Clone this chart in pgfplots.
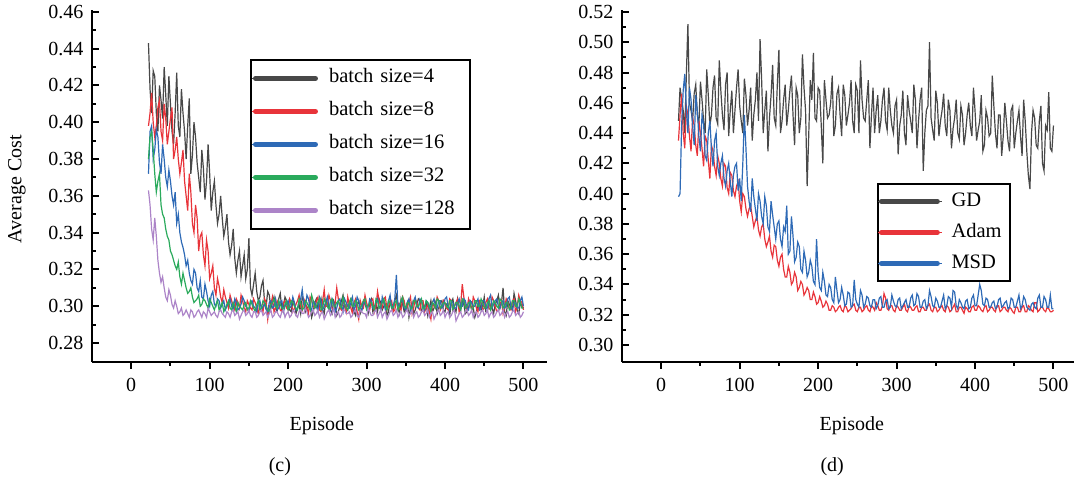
\documentclass[border=0pt]{standalone}
\usepackage{fontspec}
\setmainfont{Liberation Serif}
\usepackage{pgfplots}
\usepackage{pgfplotstable}
\pgfplotsset{compat=1.18}
\definecolor{cgray}{RGB}{72,72,72}
\definecolor{cred}{RGB}{232,52,58}
\definecolor{cblue}{RGB}{46,106,182}
\definecolor{cgreen}{RGB}{42,170,92}
\definecolor{cpurple}{RGB}{172,132,200}

\pgfplotstableread{
x bsa bsb bsc bsd bse
22 0.443 0.398 0.372 0.380 0.363
24 0.418 0.405 0.395 0.392 0.355
26 0.405 0.416 0.398 0.395 0.342
28 0.428 0.400 0.380 0.385 0.336
30 0.425 0.392 0.385 0.372 0.348
32 0.405 0.398 0.396 0.362 0.338
34 0.395 0.408 0.392 0.368 0.325
36 0.420 0.412 0.378 0.372 0.318
38 0.412 0.395 0.372 0.355 0.313
40 0.402 0.390 0.388 0.350 0.316
42 0.430 0.410 0.380 0.348 0.310
44 0.415 0.402 0.370 0.342 0.305
46 0.398 0.388 0.365 0.338 0.303
48 0.425 0.395 0.374 0.336 0.309
50 0.410 0.402 0.368 0.330 0.306
52 0.395 0.408 0.360 0.328 0.301
54 0.388 0.380 0.355 0.325 0.299
56 0.405 0.385 0.362 0.322 0.303
58 0.427 0.392 0.345 0.320 0.300
60 0.398 0.380 0.350 0.324 0.296
62 0.392 0.372 0.340 0.316 0.297
64 0.418 0.378 0.335 0.312 0.299
66 0.405 0.385 0.332 0.318 0.295
68 0.395 0.368 0.328 0.314 0.296
70 0.380 0.360 0.322 0.310 0.298
72 0.398 0.352 0.325 0.307 0.296
74 0.413 0.372 0.318 0.308 0.294
76 0.372 0.362 0.314 0.310 0.298
78 0.382 0.345 0.312 0.305 0.297
80 0.400 0.340 0.320 0.302 0.294
82 0.392 0.355 0.318 0.303 0.295
84 0.378 0.348 0.310 0.304 0.297
86 0.370 0.330 0.308 0.306 0.298
88 0.362 0.338 0.314 0.300 0.296
90 0.385 0.340 0.305 0.301 0.294
92 0.375 0.328 0.304 0.304 0.297
94 0.358 0.322 0.312 0.303 0.296
96 0.368 0.336 0.308 0.301 0.294
98 0.388 0.330 0.303 0.299 0.299
100 0.372 0.315 0.300 0.304 0.297
102 0.352 0.318 0.306 0.302 0.295
104 0.362 0.322 0.308 0.300 0.296
106 0.368 0.310 0.301 0.298 0.297
108 0.355 0.306 0.300 0.301 0.295
110 0.345 0.315 0.304 0.303 0.294
112 0.350 0.311 0.303 0.298 0.297
114 0.360 0.305 0.299 0.300 0.298
116 0.348 0.302 0.301 0.302 0.296
118 0.338 0.309 0.303 0.297 0.295
120 0.343 0.305 0.298 0.299 0.294
122 0.350 0.302 0.300 0.301 0.297
124 0.335 0.299 0.302 0.303 0.296
126 0.328 0.306 0.304 0.299 0.294
128 0.333 0.303 0.300 0.298 0.297
130 0.342 0.300 0.298 0.302 0.298
132 0.326 0.298 0.304 0.300 0.295
134 0.318 0.304 0.302 0.297 0.296
136 0.325 0.302 0.298 0.302 0.297
138 0.330 0.299 0.299 0.300 0.293
140 0.316 0.306 0.301 0.299 0.295
142 0.322 0.303 0.305 0.298 0.297
144 0.328 0.299 0.303 0.301 0.298
146 0.315 0.297 0.300 0.302 0.295
148 0.320 0.303 0.299 0.298 0.296
150 0.337 0.301 0.297 0.299 0.298
152 0.310 0.299 0.302 0.303 0.295
154 0.306 0.298 0.303 0.301 0.294
156 0.312 0.304 0.300 0.299 0.297
158 0.318 0.302 0.299 0.297 0.297
160 0.308 0.299 0.297 0.301 0.294
162 0.303 0.296 0.302 0.303 0.295
164 0.305 0.302 0.303 0.298 0.297
166 0.311 0.300 0.298 0.299 0.298
168 0.314 0.297 0.300 0.303 0.295
170 0.302 0.304 0.301 0.302 0.296
172 0.300 0.302 0.298 0.300 0.297
174 0.308 0.293 0.297 0.298 0.294
176 0.306 0.300 0.302 0.297 0.296
178 0.299 0.301 0.303 0.301 0.298
180 0.302 0.305 0.299 0.302 0.294
182 0.305 0.297 0.300 0.304 0.295
184 0.299 0.299 0.304 0.300 0.297
186 0.297 0.303 0.298 0.299 0.297
188 0.304 0.301 0.299 0.303 0.295
190 0.307 0.298 0.302 0.301 0.294
192 0.298 0.297 0.303 0.299 0.297
194 0.300 0.302 0.297 0.298 0.298
196 0.305 0.303 0.300 0.301 0.294
198 0.303 0.299 0.301 0.303 0.296
200 0.301 0.298 0.303 0.298 0.297
202 0.298 0.304 0.299 0.300 0.294
204 0.297 0.302 0.300 0.303 0.295
206 0.303 0.297 0.305 0.302 0.298
208 0.302 0.299 0.302 0.300 0.297
210 0.296 0.301 0.298 0.299 0.295
212 0.299 0.303 0.299 0.298 0.294
214 0.301 0.306 0.302 0.304 0.297
216 0.296 0.300 0.304 0.302 0.298
218 0.305 0.298 0.309 0.298 0.296
220 0.303 0.304 0.301 0.299 0.296
222 0.297 0.302 0.300 0.303 0.299
224 0.299 0.299 0.306 0.302 0.297
226 0.300 0.296 0.304 0.300 0.294
228 0.302 0.305 0.299 0.298 0.295
230 0.294 0.303 0.298 0.306 0.297
232 0.297 0.300 0.303 0.303 0.298
234 0.302 0.299 0.302 0.299 0.295
236 0.304 0.303 0.300 0.300 0.296
238 0.299 0.305 0.297 0.302 0.298
240 0.300 0.298 0.305 0.304 0.294
242 0.304 0.297 0.303 0.298 0.296
244 0.298 0.303 0.298 0.299 0.297
246 0.296 0.309 0.300 0.304 0.293
248 0.303 0.300 0.302 0.302 0.295
250 0.301 0.300 0.305 0.300 0.297
252 0.299 0.306 0.300 0.298 0.298
254 0.298 0.303 0.298 0.303 0.295
256 0.296 0.299 0.304 0.304 0.296
258 0.303 0.298 0.302 0.299 0.299
260 0.301 0.302 0.297 0.300 0.294
262 0.295 0.310 0.299 0.302 0.296
264 0.297 0.304 0.303 0.303 0.297
266 0.300 0.299 0.304 0.300 0.294
268 0.303 0.298 0.300 0.299 0.295
270 0.306 0.303 0.297 0.305 0.298
272 0.300 0.301 0.304 0.302 0.298
274 0.297 0.297 0.302 0.299 0.296
276 0.298 0.305 0.300 0.298 0.296
278 0.302 0.301 0.299 0.302 0.297
280 0.304 0.299 0.302 0.304 0.294
282 0.299 0.296 0.305 0.300 0.295
284 0.297 0.302 0.298 0.300 0.297
286 0.295 0.304 0.300 0.303 0.298
288 0.301 0.297 0.305 0.302 0.295
290 0.303 0.293 0.303 0.298 0.294
292 0.296 0.303 0.299 0.299 0.298
294 0.298 0.300 0.298 0.301 0.297
296 0.303 0.299 0.302 0.303 0.296
298 0.301 0.306 0.302 0.304 0.296
300 0.299 0.302 0.300 0.298 0.294
302 0.296 0.299 0.299 0.299 0.299
304 0.302 0.298 0.304 0.302 0.297
306 0.304 0.303 0.303 0.302 0.295
308 0.297 0.304 0.299 0.300 0.295
310 0.299 0.297 0.300 0.298 0.297
312 0.301 0.300 0.302 0.304 0.298
314 0.297 0.308 0.304 0.303 0.294
316 0.304 0.303 0.300 0.299 0.296
318 0.302 0.300 0.298 0.300 0.298
320 0.298 0.299 0.305 0.302 0.294
322 0.300 0.304 0.302 0.304 0.296
324 0.301 0.305 0.298 0.300 0.297
326 0.295 0.298 0.299 0.298 0.293
328 0.297 0.300 0.303 0.303 0.295
330 0.303 0.302 0.306 0.302 0.297
332 0.300 0.303 0.299 0.299 0.298
334 0.298 0.297 0.300 0.299 0.295
336 0.303 0.298 0.304 0.302 0.296
338 0.306 0.303 0.317 0.303 0.298
340 0.299 0.302 0.300 0.298 0.294
342 0.296 0.299 0.301 0.300 0.296
344 0.304 0.298 0.303 0.303 0.297
346 0.301 0.305 0.303 0.305 0.294
348 0.297 0.303 0.299 0.300 0.295
350 0.299 0.298 0.298 0.299 0.297
352 0.302 0.300 0.302 0.302 0.298
354 0.294 0.302 0.304 0.302 0.295
356 0.299 0.305 0.298 0.299 0.296
358 0.302 0.296 0.300 0.298 0.298
360 0.296 0.299 0.303 0.303 0.294
362 0.298 0.304 0.305 0.303 0.296
364 0.301 0.302 0.300 0.300 0.297
366 0.304 0.299 0.299 0.300 0.294
368 0.303 0.298 0.304 0.302 0.295
370 0.297 0.303 0.303 0.304 0.297
372 0.298 0.303 0.300 0.298 0.298
374 0.300 0.297 0.298 0.299 0.295
376 0.302 0.299 0.303 0.303 0.296
378 0.295 0.301 0.302 0.302 0.298
380 0.299 0.297 0.299 0.300 0.294
382 0.303 0.293 0.300 0.297 0.296
384 0.297 0.302 0.302 0.302 0.297
386 0.299 0.300 0.304 0.301 0.293
388 0.302 0.299 0.300 0.299 0.295
390 0.296 0.305 0.299 0.304 0.297
392 0.299 0.303 0.303 0.303 0.298
394 0.302 0.298 0.303 0.299 0.295
396 0.303 0.300 0.299 0.300 0.296
398 0.298 0.303 0.300 0.302 0.298
400 0.297 0.301 0.304 0.302 0.294
402 0.301 0.299 0.305 0.300 0.296
404 0.300 0.298 0.300 0.299 0.297
406 0.295 0.304 0.298 0.303 0.294
408 0.302 0.303 0.303 0.303 0.295
410 0.304 0.298 0.302 0.298 0.297
412 0.299 0.300 0.299 0.300 0.298
414 0.297 0.302 0.299 0.302 0.292
416 0.304 0.304 0.302 0.302 0.294
418 0.300 0.297 0.304 0.300 0.296
420 0.298 0.301 0.300 0.298 0.297
422 0.303 0.312 0.300 0.304 0.294
424 0.301 0.305 0.304 0.303 0.295
426 0.296 0.300 0.303 0.299 0.297
428 0.297 0.298 0.299 0.300 0.298
430 0.299 0.304 0.298 0.302 0.295
432 0.303 0.301 0.303 0.302 0.296
434 0.302 0.298 0.302 0.298 0.298
436 0.299 0.305 0.300 0.299 0.294
438 0.294 0.303 0.300 0.303 0.296
440 0.297 0.299 0.302 0.303 0.297
442 0.301 0.297 0.304 0.300 0.294
444 0.302 0.303 0.298 0.300 0.295
446 0.298 0.302 0.299 0.304 0.297
448 0.300 0.298 0.303 0.302 0.298
450 0.305 0.299 0.303 0.299 0.295
452 0.297 0.302 0.300 0.299 0.296
454 0.297 0.304 0.298 0.302 0.298
456 0.303 0.299 0.304 0.303 0.294
458 0.300 0.298 0.306 0.298 0.296
460 0.299 0.305 0.299 0.300 0.297
462 0.296 0.303 0.301 0.303 0.294
464 0.301 0.300 0.303 0.302 0.295
466 0.303 0.297 0.304 0.300 0.297
468 0.306 0.298 0.300 0.299 0.298
470 0.299 0.301 0.299 0.304 0.295
472 0.302 0.303 0.302 0.303 0.296
474 0.310 0.296 0.303 0.299 0.298
476 0.297 0.299 0.299 0.300 0.294
478 0.295 0.304 0.300 0.302 0.296
480 0.303 0.302 0.304 0.302 0.297
482 0.301 0.299 0.305 0.298 0.294
484 0.299 0.298 0.300 0.299 0.295
486 0.298 0.303 0.298 0.303 0.297
488 0.307 0.304 0.302 0.303 0.298
490 0.303 0.297 0.302 0.300 0.295
492 0.298 0.300 0.299 0.300 0.296
494 0.296 0.306 0.299 0.304 0.297
496 0.302 0.303 0.303 0.302 0.294
498 0.300 0.302 0.305 0.299 0.295
500 0.299 0.298 0.300 0.299 0.297
}\lefttab

\pgfplotstableread{
x gd adam msd
22 0.448 0.435 0.398
24 0.470 0.452 0.400
26 0.462 0.466 0.445
28 0.455 0.440 0.468
30 0.440 0.430 0.479
32 0.478 0.458 0.455
34 0.512 0.452 0.440
36 0.460 0.438 0.470
38 0.455 0.428 0.462
40 0.448 0.450 0.445
42 0.466 0.445 0.432
44 0.472 0.432 0.465
46 0.452 0.425 0.455
48 0.445 0.448 0.438
50 0.474 0.440 0.428
52 0.462 0.430 0.452
54 0.448 0.418 0.446
56 0.440 0.438 0.425
58 0.482 0.435 0.422
60 0.465 0.422 0.440
62 0.445 0.410 0.448
64 0.452 0.432 0.430
66 0.470 0.428 0.418
68 0.478 0.418 0.435
70 0.450 0.412 0.440
72 0.446 0.425 0.418
74 0.488 0.420 0.412
76 0.468 0.410 0.420
78 0.452 0.405 0.425
80 0.442 0.420 0.410
82 0.472 0.418 0.405
84 0.480 0.404 0.415
86 0.438 0.400 0.420
88 0.455 0.414 0.408
90 0.468 0.412 0.398
92 0.440 0.402 0.412
94 0.455 0.398 0.418
96 0.470 0.405 0.420
98 0.482 0.408 0.402
100 0.458 0.395 0.410
102 0.448 0.388 0.395
104 0.440 0.400 0.420
106 0.476 0.398 0.452
108 0.465 0.390 0.430
110 0.445 0.385 0.405
112 0.455 0.390 0.395
114 0.470 0.392 0.388
116 0.435 0.385 0.410
118 0.452 0.378 0.398
120 0.462 0.382 0.390
122 0.480 0.385 0.382
124 0.448 0.376 0.400
126 0.502 0.372 0.395
128 0.475 0.378 0.385
130 0.440 0.380 0.380
132 0.455 0.370 0.398
134 0.468 0.365 0.392
136 0.428 0.368 0.378
138 0.450 0.372 0.375
140 0.465 0.362 0.395
142 0.485 0.358 0.386
144 0.450 0.366 0.378
146 0.445 0.365 0.370
148 0.472 0.356 0.380
150 0.495 0.352 0.382
152 0.440 0.358 0.370
154 0.448 0.360 0.365
156 0.462 0.350 0.378
158 0.472 0.345 0.375
160 0.445 0.345 0.392
162 0.455 0.352 0.360
164 0.468 0.348 0.362
166 0.478 0.340 0.385
168 0.452 0.342 0.372
170 0.432 0.348 0.355
172 0.470 0.345 0.358
174 0.465 0.336 0.368
176 0.440 0.338 0.365
178 0.450 0.342 0.350
180 0.492 0.340 0.348
182 0.470 0.333 0.362
184 0.455 0.335 0.356
186 0.405 0.338 0.345
188 0.438 0.336 0.348
190 0.475 0.330 0.356
192 0.462 0.330 0.352
194 0.493 0.335 0.342
196 0.450 0.332 0.340
198 0.448 0.327 0.370
200 0.470 0.328 0.348
202 0.468 0.332 0.338
204 0.445 0.329 0.336
206 0.420 0.325 0.348
208 0.475 0.326 0.342
210 0.462 0.329 0.333
212 0.450 0.327 0.332
214 0.452 0.323 0.340
216 0.460 0.323 0.338
218 0.478 0.326 0.330
220 0.438 0.325 0.328
222 0.445 0.322 0.345
224 0.466 0.323 0.336
226 0.470 0.325 0.328
228 0.452 0.326 0.330
230 0.438 0.323 0.338
232 0.472 0.322 0.333
234 0.465 0.326 0.326
236 0.445 0.325 0.327
238 0.452 0.322 0.335
240 0.460 0.323 0.334
242 0.475 0.324 0.325
244 0.448 0.326 0.326
246 0.440 0.327 0.343
248 0.472 0.323 0.330
250 0.468 0.322 0.327
252 0.440 0.325 0.325
254 0.488 0.325 0.336
256 0.462 0.322 0.333
258 0.450 0.323 0.325
260 0.448 0.325 0.327
262 0.462 0.326 0.332
264 0.475 0.323 0.331
266 0.430 0.322 0.326
268 0.452 0.326 0.325
270 0.470 0.325 0.330
272 0.440 0.323 0.330
274 0.455 0.328 0.324
276 0.465 0.326 0.326
278 0.440 0.323 0.331
280 0.448 0.323 0.332
282 0.462 0.326 0.325
284 0.470 0.334 0.325
286 0.448 0.331 0.329
288 0.442 0.324 0.330
290 0.470 0.323 0.324
292 0.455 0.326 0.325
294 0.445 0.326 0.333
296 0.440 0.323 0.329
298 0.458 0.322 0.326
300 0.462 0.326 0.325
302 0.426 0.325 0.330
304 0.445 0.323 0.331
306 0.452 0.323 0.324
308 0.468 0.325 0.326
310 0.440 0.327 0.328
312 0.432 0.323 0.330
314 0.465 0.322 0.325
316 0.455 0.326 0.325
318 0.448 0.325 0.331
320 0.440 0.323 0.333
322 0.472 0.323 0.326
324 0.462 0.325 0.327
326 0.430 0.326 0.334
328 0.448 0.322 0.332
330 0.462 0.322 0.325
332 0.470 0.325 0.325
334 0.415 0.325 0.329
336 0.440 0.323 0.330
338 0.455 0.323 0.324
340 0.458 0.326 0.326
342 0.500 0.327 0.336
344 0.450 0.323 0.332
346 0.442 0.322 0.326
348 0.435 0.325 0.325
350 0.468 0.325 0.331
352 0.460 0.322 0.329
354 0.438 0.323 0.325
356 0.448 0.325 0.325
358 0.455 0.326 0.329
360 0.466 0.323 0.333
362 0.445 0.322 0.324
364 0.438 0.326 0.326
366 0.462 0.325 0.332
368 0.455 0.322 0.331
370 0.430 0.323 0.325
372 0.443 0.325 0.336
374 0.450 0.327 0.335
376 0.462 0.322 0.326
378 0.440 0.322 0.324
380 0.436 0.325 0.330
382 0.458 0.325 0.328
384 0.452 0.323 0.325
386 0.432 0.321 0.324
388 0.440 0.325 0.329
390 0.452 0.324 0.330
392 0.460 0.322 0.324
394 0.445 0.322 0.325
396 0.438 0.325 0.331
398 0.470 0.326 0.333
400 0.455 0.323 0.326
402 0.435 0.323 0.326
404 0.442 0.326 0.333
406 0.448 0.325 0.340
408 0.465 0.323 0.336
410 0.428 0.322 0.327
412 0.432 0.325 0.326
414 0.455 0.326 0.331
416 0.450 0.322 0.330
418 0.438 0.323 0.325
420 0.440 0.325 0.325
422 0.478 0.325 0.328
424 0.458 0.323 0.329
426 0.440 0.322 0.324
428 0.430 0.326 0.325
430 0.452 0.326 0.330
432 0.452 0.322 0.331
434 0.425 0.323 0.325
436 0.438 0.325 0.326
438 0.460 0.325 0.328
440 0.448 0.323 0.329
442 0.435 0.322 0.324
444 0.428 0.325 0.325
446 0.455 0.324 0.331
448 0.458 0.322 0.330
450 0.430 0.321 0.325
452 0.440 0.325 0.325
454 0.448 0.325 0.329
456 0.455 0.322 0.333
458 0.438 0.322 0.324
460 0.425 0.325 0.326
462 0.462 0.326 0.332
464 0.448 0.322 0.330
466 0.428 0.322 0.325
468 0.412 0.326 0.324
470 0.403 0.325 0.323
472 0.440 0.323 0.327
474 0.455 0.322 0.328
476 0.450 0.328 0.325
478 0.432 0.328 0.324
480 0.430 0.322 0.331
482 0.448 0.323 0.333
484 0.458 0.325 0.325
486 0.420 0.325 0.325
488 0.415 0.323 0.332
490 0.445 0.322 0.330
492 0.442 0.325 0.325
494 0.467 0.324 0.325
496 0.430 0.322 0.333
498 0.428 0.322 0.324
500 0.445 0.323 0.324
}\righttab

\pgfplotsset{
  mystyle/.style={
    scale only axis,
    width=455pt, height=352pt,
    axis x line=bottom, axis y line=left,
    axis line style={-, line width=2.6pt, black},
    tick align=inside,
    major tick length=7pt, minor tick length=4pt,
    every tick/.style={line width=2pt, black},
    major x tick style={yshift=-7pt},
    minor x tick style={yshift=-4pt},
    minor tick num=1,
    xmin=-50, xmax=530,
    xtick={0,100,200,300,400,500},
    tick label style={font=\fontsize{20}{24}\selectfont},
    /pgf/number format/assume math mode=true,
    yticklabel style={/pgf/number format/.cd, fixed, fixed zerofill, precision=2, /tikz/.cd, xshift=-5pt},
    xticklabel style={yshift=-13pt},
    xlabel={Episode},
    xlabel style={font=\fontsize{20}{24}\selectfont, at={(axis description cs:0.505,-0.18)}, anchor=center},
    legend cell align=left,
    clip mode=individual,
  },
  myline/.style={line width=1.2pt},
}

\begin{document}
\begin{tikzpicture}
% left panel (c)
\begin{axis}[mystyle,
  at={(92pt,119pt)}, anchor=south west,
  ymin=0.2697, ymax=0.461,
  ytick={0.28,0.30,0.32,0.34,0.36,0.38,0.40,0.42,0.44,0.46},
  ylabel={Average Cost},
  ylabel style={font=\fontsize{20}{24}\selectfont, at={(axis description cs:-0.165,0.491)}, anchor=center, rotate=0},
  legend image code/.code={\draw[#1, line width=5pt, line cap=round] (3pt,0pt) -- (63pt,0pt); \path (0pt,0pt) -- (66pt,0pt);},
  legend style={at={(axis description cs:0.347,0.861)}, anchor=north west,
    draw=black, line width=2pt, inner xsep=1pt, inner ysep=4pt, row sep=4pt,
    font=\fontsize{20.5}{24}\selectfont,
    nodes={inner xsep=10pt, inner ysep=5pt, text height=14pt, text depth=5pt, text width=130pt, align=left}},
]
\addplot[myline, cgray] table[x=x, y=bsa] {\lefttab};
\addlegendentry{batch size=4}
\addplot[myline, cred] table[x=x, y=bsb] {\lefttab};
\addlegendentry{batch size=8}
\addplot[myline, cblue] table[x=x, y=bsc] {\lefttab};
\addlegendentry{batch size=16}
\addplot[myline, cgreen] table[x=x, y=bsd] {\lefttab};
\addlegendentry{batch size=32}
\addplot[myline, cpurple] table[x=x, y=bse] {\lefttab};
\addlegendentry{batch size=128}
\node[font=\fontsize{20}{24}\selectfont] at (axis description cs:0.413,-0.298) {(c)};
\end{axis}

% right panel (d)
\begin{axis}[mystyle,
  at={(622pt,119pt)}, anchor=south west,
  ymin=0.2888, ymax=0.5213,
  ytick={0.30,0.32,0.34,0.36,0.38,0.40,0.42,0.44,0.46,0.48,0.50,0.52},
  legend image code/.code={\draw[#1, line width=5pt, line cap=round] (3pt,0pt) -- (59pt,0pt); \path (0pt,0pt) -- (64pt,0pt);},
  legend style={at={(axis description cs:0.560,0.5085)}, anchor=north west,
    draw=black, line width=2pt, inner xsep=0pt, inner ysep=3pt, row sep=2pt,
    font=\fontsize{20.5}{24}\selectfont,
    nodes={inner xsep=8.5pt, inner ysep=5pt, text height=14pt, text depth=5pt, text width=50pt, align=left}},
]
\addplot[myline, cgray] table[x=x, y=gd] {\righttab};
\addlegendentry{GD}
\addplot[myline, cred] table[x=x, y=adam] {\righttab};
\addlegendentry{Adam}
\addplot[myline, cblue] table[x=x, y=msd] {\righttab};
\addlegendentry{MSD}
\node[font=\fontsize{20}{24}\selectfont] at (axis description cs:0.462,-0.298) {(d)};
\end{axis}

\pgfresetboundingbox
\path[use as bounding box] (0pt,0pt) rectangle (1074pt,481pt);
\end{tikzpicture}
\end{document}
